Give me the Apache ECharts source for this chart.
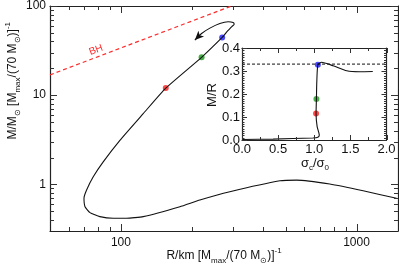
<!DOCTYPE html>
<html>
<head>
<meta charset="utf-8">
<script src="https://cdn.jsdelivr.net/npm/echarts@6/dist/echarts.min.js"></script>
<style>html,body{margin:0;padding:0;background:#fff}#c{width:399px;height:270px}</style>
</head>
<body>
<div id="c"></div>
<script>
// ---- data ----
// main panel: R/km [Mmax/(70 Msun)]^-1 vs M/Msun [Mmax/(70 Msun)]^-1
const mainR = [1478, 1067, 770, 556.5, 473, 290, 216.3, 178, 124.3, 105.7, 92.8, 81.4, 73.9, 70.4, 69.7, 71.5, 76.3, 84.1, 99, 124.3, 155, 220, 269, 282.5, 294.9, 302.5, 299.5, 285.3, 263, 238.6, 220, 206];
const mainM = [0.698, 0.848, 1.008, 1.117, 1.097, 0.827, 0.668, 0.562, 0.435, 0.417, 0.417, 0.435, 0.482, 0.562, 0.698, 0.864, 1.216, 1.788, 3.12, 6.2, 12.0, 26.6, 44.4, 51.8, 58.4, 62.6, 65.3, 66.5, 63.6, 56.5, 49.2, 41.5];
const bhR = [50, 295];
const bhM = [16.9, 100];
const dotR = [155, 220, 269];
const dotM = [12.0, 26.6, 44.4];
const dotColors = ['#ff1a1a', '#1a9a1a', '#1a1aff'];
// inset: sigma_c/sigma_0 vs M/R
const insS = [0, 0.43, 0.98, 1.05, 1.07, 1.04, 1.025, 1.03, 1.035, 1.05, 1.10, 1.26, 1.45, 1.63, 1.81];
const insMR = [0.002, 0.004, 0.009, 0.012, 0.022, 0.058, 0.115, 0.178, 0.25, 0.327, 0.338, 0.323, 0.301, 0.297, 0.298];
const insDotS = [1.025, 1.03, 1.05];
const insDotMR = [0.115, 0.178, 0.327];
const limS = [0, 2];
const limMR = [0.33, 0.33];
// tick values
const xMajor = [100, 1000];
const xMinor = [60, 70, 80, 90, 200, 300, 400, 500, 600, 700, 800, 900];
const yMajor = [1, 10, 100];
const yMinor = [0.4, 0.5, 0.6, 0.7, 0.8, 0.9, 2, 3, 4, 5, 6, 7, 8, 9, 20, 30, 40, 50, 60, 70, 80, 90];
const insXMajor = [0, 0.5, 1, 1.5, 2];
const insXMinor = [0.25, 0.75, 1.25, 1.75];
const insYMajor = [0, 0.1, 0.2, 0.3, 0.4];
const insYMinor = [];
for (let i = 1; i < 40; i++) if (i % 10) insYMinor.push(i / 100);

const FONT = 'Liberation Sans, Arial, Helvetica, sans-serif';
const AX = '#222';
const TXT = '#111';

function logAxis(kind, pos, labels) {
  return {
    type: 'log', gridIndex: 0, position: pos,
    min: kind === 'x' ? 50 : 0.3, max: kind === 'x' ? 1500 : 100,
    axisLine: {show: true, onZero: false, lineStyle: {color: AX, width: 1.2}},
    axisTick: {show: false},
    axisLabel: {show: labels, customValues: kind === 'x' ? xMajor : yMajor, formatter: v => String(v), fontSize: 12, color: TXT, fontFamily: FONT, margin: kind === 'x' ? 6 : 4},
    splitLine: {show: false}
  };
}
function valAxis(kind, pos, labels) {
  const isX = kind === 'x';
  return {
    type: 'value', gridIndex: 1, position: pos,
    min: 0, max: isX ? 2 : 0.4, interval: isX ? 0.5 : 0.1,
    axisLine: {show: true, onZero: false, lineStyle: {color: AX, width: 1.2}},
    axisTick: {show: false},
    minorTick: {show: false},
    axisLabel: {show: labels, formatter: v => v.toFixed(1), fontSize: 13, color: TXT, fontFamily: FONT, margin: isX ? 3 : 2},
    splitLine: {show: false}
  };
}

// tick marks drawn inward on all four sides, placed through the axes' own scales
function tickRenderer(xTicks, yTicks, xRef, yRef) {
  return function (params, api) {
    if (params.dataIndex !== 0) return;
    const cs = params.coordSys;
    const L = cs.x, T = cs.y, R = cs.x + cs.width, B = cs.y + cs.height;
    const st = {stroke: '#333', lineWidth: 1};
    const ch = [];
    xTicks.forEach(t => {
      const x = Math.round(api.coord([t[0], yRef])[0]) + 0.5;
      ch.push({type: 'line', shape: {x1: x, y1: B, x2: x, y2: B - t[1]}, style: st, silent: true});
      ch.push({type: 'line', shape: {x1: x, y1: T, x2: x, y2: T + t[1]}, style: st, silent: true});
    });
    yTicks.forEach(t => {
      const y = Math.round(api.coord([xRef, t[0]])[1]) + 0.5;
      ch.push({type: 'line', shape: {x1: L, y1: y, x2: L + t[1], y2: y}, style: st, silent: true});
      ch.push({type: 'line', shape: {x1: R, y1: y, x2: R - t[1], y2: y}, style: st, silent: true});
    });
    return {type: 'group', children: ch};
  };
}
const mainXT = xMajor.map(v => [v, 7]).concat(xMinor.map(v => [v, 4]));
const mainYT = yMajor.map(v => [v, 7]).concat(yMinor.map(v => [v, 4]));
const insXT = insXMajor.map(v => [v, 5]).concat(insXMinor.map(v => [v, 3]));
const insYT = insYMajor.map(v => [v, 5]).concat(insYMinor.map(v => [v, 2.5]));

const sub = {fontSize: 8, verticalAlign: 'bottom', lineHeight: 18, fontFamily: FONT, fill: TXT};
const sup = {fontSize: 8, verticalAlign: 'top', lineHeight: 18, fontFamily: FONT, fill: TXT};
const nrm = {fontSize: 12, lineHeight: 18, fontFamily: FONT, fill: TXT};
const nrm13 = {fontSize: 13, lineHeight: 18, fontFamily: FONT, fill: TXT};

const mainData = mainR.map((r, i) => [r, mainM[i]]);
const last = mainData.length - 1;
mainData[last] = {value: mainData[last], symbol: 'arrow', symbolSize: [6, 9], symbolRotate: 135, itemStyle: {color: TXT}};

const chart = echarts.init(document.getElementById('c'));
chart.setOption({
  animation: false,
  grid: [
    {left: 50, top: 5, width: 348, height: 226},
    {left: 242, top: 48, width: 144.5, height: 92, show: true, backgroundColor: '#fff', borderWidth: 0}
  ],
  xAxis: [
    logAxis('x', 'bottom', true),
    logAxis('x', 'top', false),
    valAxis('x', 'bottom', true),
    valAxis('x', 'top', false)
  ],
  yAxis: [
    logAxis('y', 'left', true),
    logAxis('y', 'right', false),
    valAxis('y', 'left', true),
    valAxis('y', 'right', false)
  ],
  graphic: [
    {
      type: 'text', left: 4, top: 22, rotation: Math.PI / 2,
      style: {text: '{n|M/M}{s|⊙}{n| [M}{s|max}{n|/(70 M}{s|⊙}{n|)]}{p|-1}', rich: {n: nrm, s: sub, p: sup}}
    },
    {
      type: 'text', x: 224, y: 256,
      style: {text: '{n|R/km [M}{s|max}{n|/(70 M}{s|⊙}{n|)]}{p|-1}', rich: {n: nrm, s: sub, p: sup}, align: 'center', verticalAlign: 'middle'}
    },
    {
      type: 'text', x: 315, y: 163,
      style: {text: '{n|σ}{s|c}{n|/σ}{s|0}', rich: {n: nrm13, s: sub}, align: 'center', verticalAlign: 'middle'}
    },
    {
      type: 'text', x: 212, y: 95, rotation: Math.PI / 2,
      style: {text: 'M/R', fontSize: 13, fontFamily: FONT, fill: TXT, align: 'center', verticalAlign: 'middle'}
    },
    {
      type: 'text', x: 96, y: 50, rotation: 0.363,
      style: {text: 'BH', fill: '#ff2a2a', fontSize: 10, fontFamily: FONT, align: 'center', verticalAlign: 'middle'}
    }
  ],
  series: [
    {
      type: 'custom', xAxisIndex: 0, yAxisIndex: 0, silent: true, z: 10,
      data: [[xMajor[0], yMajor[0]]],
      renderItem: tickRenderer(mainXT, mainYT, xMajor[0], yMajor[0])
    },
    {
      type: 'line', xAxisIndex: 1, yAxisIndex: 1, data: bhR.map((r, i) => [r, bhM[i]]),
      symbol: 'none', lineStyle: {color: '#ff2a2a', width: 1.2, type: [4, 3]}
    },
    {
      type: 'line', xAxisIndex: 0, yAxisIndex: 0, data: mainData,
      symbol: 'none', showSymbol: true, smooth: 0.15,
      lineStyle: {color: TXT, width: 1.1}
    },
    {
      type: 'scatter', xAxisIndex: 0, yAxisIndex: 0, symbolSize: 6,
      data: dotR.map((r, i) => ({value: [r, dotM[i]], itemStyle: {color: dotColors[i]}}))
    },
    {
      type: 'custom', xAxisIndex: 2, yAxisIndex: 2, silent: true, z: 10,
      data: [[insXMajor[0], insYMajor[0]]],
      renderItem: tickRenderer(insXT, insYT, insXMajor[0], insYMajor[0])
    },
    {
      type: 'line', xAxisIndex: 2, yAxisIndex: 2, data: limS.map((s, i) => [s, limMR[i]]),
      symbol: 'none', lineStyle: {color: TXT, width: 1, type: [3, 2]}
    },
    {
      type: 'line', xAxisIndex: 2, yAxisIndex: 2, data: insS.map((s, i) => [s, insMR[i]]),
      symbol: 'none', smooth: 0.2, lineStyle: {color: TXT, width: 1.1}
    },
    {
      type: 'scatter', xAxisIndex: 2, yAxisIndex: 2, symbolSize: 6,
      data: insDotS.map((s, i) => ({value: [s, insDotMR[i]], itemStyle: {color: dotColors[i]}}))
    }
  ]
});
</script>
</body>
</html>
